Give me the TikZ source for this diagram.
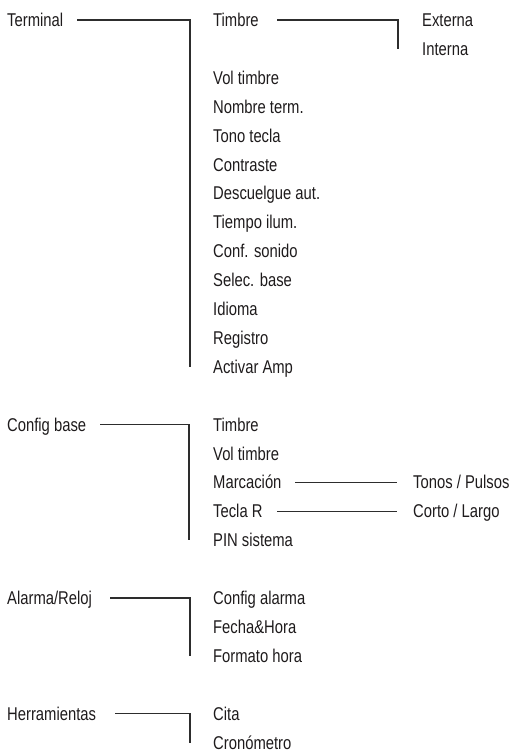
\documentclass[tikz,border=0pt]{standalone}
\usepackage{fontspec}
\setmainfont[FakeStretch=0.8]{Liberation Sans}
\definecolor{txtc}{RGB}{30,27,28}
\definecolor{linec}{RGB}{45,45,45}
\tikzset{
  lbl/.style={anchor=west, inner sep=0pt, text height=13pt, text depth=0pt,
    text=txtc, font=\fontsize{18.5pt}{21pt}\selectfont},
  conn/.style={draw=linec, line width=1.1pt}
}
\begin{document}
\begin{tikzpicture}[x=1pt,y=-1pt]
\useasboundingbox (0,0) rectangle (525,756);
% column A
\node[lbl] (terminal) at (7,{20+28.9*0}) {Terminal};
\node[lbl] (configbase) at (7,{20+28.9*14}) {Config base};
\node[lbl] (alarma) at (7,{20+28.9*20}) {Alarma/Reloj};
\node[lbl] (herr) at (7,{20+28.9*24}) {Herramientas};
% column B
\node[lbl] (timbre) at (213,{20+28.9*0}) {Timbre};
\node[lbl] (vol) at (213,{20+28.9*2}) {Vol timbre};
\node[lbl] (nombre) at (213,{20+28.9*3}) {Nombre term.};
\node[lbl] (tono) at (213,{20+28.9*4}) {Tono tecla};
\node[lbl] (contraste) at (213,{20+28.9*5}) {Contraste};
\node[lbl] (descuelgue) at (213,{20+28.9*6}) {Descuelgue aut.};
\node[lbl] (tiempo) at (213,{20+28.9*7}) {Tiempo ilum.};
\node[lbl] (conf) at (213,{20+28.9*8}) {Conf. sonido};
\node[lbl] (selec) at (213,{20+28.9*9}) {Selec. base};
\node[lbl] (idioma) at (213,{20+28.9*10}) {Idioma};
\node[lbl] (registro) at (213,{20+28.9*11}) {Registro};
\node[lbl] (activar) at (213,{20+28.9*12}) {Activar Amp};
\node[lbl] (cbtimbre) at (213,{20+28.9*14}) {Timbre};
\node[lbl] (cbvol) at (213,{20+28.9*15}) {Vol timbre};
\node[lbl] (marc) at (213,{20+28.9*16}) {Marcación};
\node[lbl] (tecla) at (213,{20+28.9*17}) {Tecla R};
\node[lbl] (pin) at (213,{20+28.9*18}) {PIN sistema};
\node[lbl] (calarma) at (213,{20+28.9*20}) {Config alarma};
\node[lbl] (fecha) at (213,{20+28.9*21}) {Fecha\&Hora};
\node[lbl] (formato) at (213,{20+28.9*22}) {Formato hora};
\node[lbl] (cita) at (213,{20+28.9*24}) {Cita};
\node[lbl] (crono) at (213,{20+28.9*25}) {Cronómetro};
% column C
\node[lbl] (externa) at (422,{20+28.9*0}) {Externa};
\node[lbl] (interna) at (422,{20+28.9*1}) {Interna};
\node[lbl] (tonos) at (413,{20+28.9*16}) {Tonos / Pulsos};
\node[lbl] (corto) at (413,{20+28.9*17}) {Corto / Largo};
% connector start x positions
\coordinate (s1) at (77,0);
\coordinate (s2) at (277,0);
\coordinate (s3) at (100,0);
\coordinate (s4) at (295,0);
\coordinate (s5) at (277,0);
\coordinate (s6) at (110,0);
\coordinate (s7) at (115,0);
% bar corners
\coordinate (b1) at (190,{20+28.9*0});
\coordinate (b2) at (398,{20+28.9*0});
\coordinate (b3) at (189,{20+28.9*14});
\coordinate (b4) at (190,{20+28.9*20});
\coordinate (b5) at (190,{20+28.9*24});
\coordinate (m1) at (397,{20+28.9*16});
\coordinate (t1) at (397,{20+28.9*17});
% connectors
\draw[conn] (terminal -| s1) -- (b1) -- (b1 |- activar.west);
\draw[conn] (timbre -| s2) -- (b2) -- (b2 |- interna.west);
\draw[conn] (configbase -| s3) -- (b3) -- (b3 |- pin.west);
\draw[conn] (marc -| s4) -- (m1);
\draw[conn] (tecla -| s5) -- (t1);
\draw[conn] (alarma -| s6) -- (b4) -- (b4 |- formato.west);
\draw[conn] (herr -| s7) -- (b5) -- (b5 |- crono.west);
\end{tikzpicture}
\end{document}
